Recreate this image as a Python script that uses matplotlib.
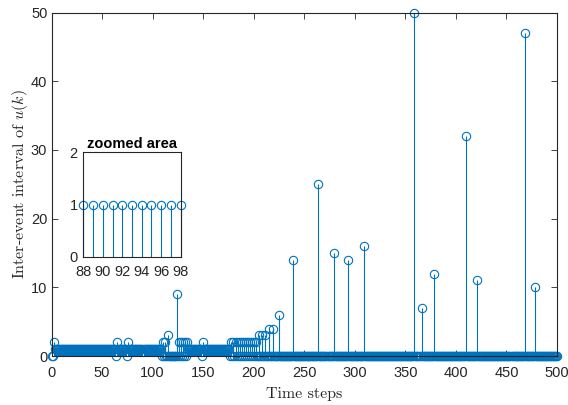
import numpy as np
import matplotlib
matplotlib.use("Agg")
import matplotlib.pyplot as plt

plt.rcParams['mathtext.fontset'] = 'cm'
plt.rcParams['font.family'] = ['Liberation Sans', 'DejaVu Sans']

# ---- data ----
n_steps = 500
# runs of consecutive events with inter-event interval 1 (start, end inclusive)
unit_runs = [(3, 63), (66, 74), (77, 108), (135, 148), (151, 176)]
# other events: time step and inter-event interval
event_steps = [2, 65, 76, 110, 112, 115, 124, 126, 128, 130, 132, 134, 150,
               178, 180, 182, 184, 186, 188, 190, 192, 194, 196, 198, 200, 202,
               205, 208, 211, 215, 219, 225, 239, 264, 279, 293, 309, 359,
               366, 378, 410, 421, 468, 478]
event_intervals = [2, 2, 2, 2, 2, 3, 9, 2, 2, 2, 2, 2, 2,
                   2, 2, 2, 2, 2, 2, 2, 2, 2, 2, 2, 2, 2,
                   3, 3, 3, 4, 4, 6, 14, 25, 15, 14, 16, 50,
                   7, 12, 32, 11, 47, 10]

steps = np.arange(n_steps + 1)
values = np.zeros(n_steps + 1)
for a, b in unit_runs:
    values[a:b + 1] = 1
for s, v in zip(event_steps, event_intervals):
    values[s] = v

zoom_range = (88, 98)

# ---- style ----
blue = '#0072BD'
axcol = '#262626'

fig = plt.figure(figsize=(5.68, 4.05), dpi=100)
ax = fig.add_axes([51.5/568, 1 - 356/405, (557 - 51.5)/568, (356 - 12.5)/405])


def draw_stem(a, x, y, ms):
    ml, sl, bl = a.stem(x, y, linefmt='-', markerfmt='o', basefmt=' ')
    plt.setp(sl, color=blue, linewidth=0.8)
    plt.setp(ml, markerfacecolor='none', markeredgecolor=blue,
             markersize=ms, markeredgewidth=0.8, clip_on=False)
    sl.set_clip_on(False)


def style_axes(a, fs):
    for sp in a.spines.values():
        sp.set_color(axcol)
        sp.set_linewidth(0.8)
    a.tick_params(direction='in', top=True, right=True, length=4,
                  width=0.6, colors=axcol, labelsize=fs)


draw_stem(ax, steps, values, 6.0)
ax.set_xlim(0, 500)
ax.set_ylim(0, 50)
ax.set_xticks(np.arange(0, 501, 50))
ax.set_yticks(np.arange(0, 51, 10))
style_axes(ax, 10.5)
ax.tick_params(axis='x', pad=7.5)
ax.tick_params(axis='y', pad=3)
ax.set_xlabel('Time steps', fontfamily='cmr10', fontsize=11.5, color=axcol, labelpad=5)
ax.set_ylabel(r'Inter-event interval of $u(k)$', fontfamily='cmr10',
              fontsize=11.5, color=axcol, labelpad=1)

# inset
axin = fig.add_axes([83.3/568, 1 - 256.7/405, (180.7 - 83.3)/568, (256.7 - 152.3)/405])
mask = (steps >= zoom_range[0]) & (steps <= zoom_range[1]) & (values > 0)
draw_stem(axin, steps[mask], values[mask], 6.0)
axin.set_xlim(*zoom_range)
axin.set_ylim(0, 2)
axin.set_xticks(np.arange(88, 99, 2))
axin.set_yticks([0, 1, 2])
style_axes(axin, 10.5)
axin.tick_params(top=False, right=False, length=0)
axin.tick_params(axis='x', pad=6)
axin.tick_params(axis='y', pad=4)
axin.set_title('zoomed area', fontsize=10.5, fontweight='bold', color='black', pad=3)

fig.savefig('out.png', dpi=100)
